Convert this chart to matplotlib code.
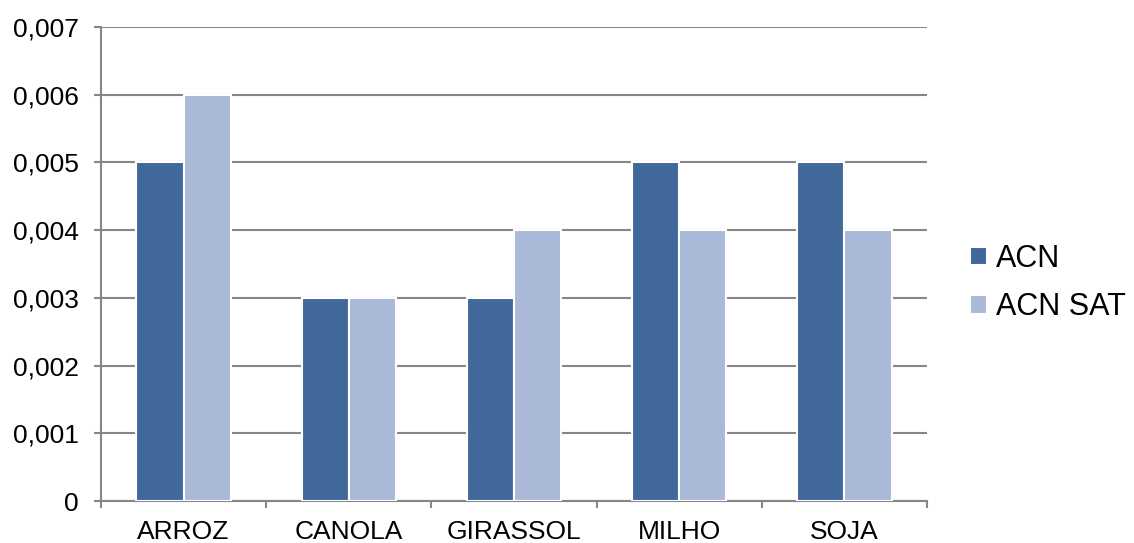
import matplotlib.pyplot as plt
import numpy as np

plt.rcParams['font.family'] = ['Liberation Sans', 'DejaVu Sans']

categories = ['ARROZ', 'CANOLA', 'GIRASSOL', 'MILHO', 'SOJA']
acn = [0.005, 0.003, 0.003, 0.005, 0.005]
acn_sat = [0.006, 0.003, 0.004, 0.004, 0.004]
y_ticks = [0, 0.001, 0.002, 0.003, 0.004, 0.005, 0.006, 0.007]
y_labels = ['0', '0,001', '0,002', '0,003', '0,004', '0,005', '0,006', '0,007']

dark = '#41689B'
light = '#AAB9D7'
grid = '#868686'

fig = plt.figure(figsize=(11.34, 5.43), dpi=100)
ax = fig.add_axes([0.089, 0.0773, 0.7285, 0.873])

x = np.arange(len(categories))
w = 0.285
ax.bar(x - w / 2, acn, w, color=dark, edgecolor='white', linewidth=1.5, label='ACN', zorder=3)
ax.bar(x + w / 2, acn_sat, w, color=light, edgecolor='white', linewidth=1.5, label='ACN SAT', zorder=3)

ax.set_xlim(-0.5, len(categories) - 0.5)
ax.set_ylim(0, 0.007)
ax.set_yticks(y_ticks)
ax.set_yticklabels(y_labels)
ax.set_xticks(x)
ax.set_xticklabels(categories)
ax.set_xticks(np.arange(len(categories) + 1) - 0.5, minor=True)

ax.yaxis.grid(True, color=grid, linewidth=1.5, zorder=0)
ax.set_axisbelow(True)
for side in ['top', 'right']:
    ax.spines[side].set_visible(False)
for side in ['left', 'bottom']:
    ax.spines[side].set_color(grid)
    ax.spines[side].set_linewidth(1.5)

ax.tick_params(axis='y', direction='out', length=5, width=1.5, color=grid, pad=11, labelsize=19)
ax.tick_params(axis='x', which='major', length=0, pad=14, labelsize=19)
ax.tick_params(axis='x', which='minor', direction='out', length=5, width=1.5, color=grid)

ax.legend(loc='center left', bbox_to_anchor=(1.052, 0.46), frameon=False, fontsize=22,
          handlelength=0.55, handleheight=0.55, handletextpad=0.3, labelspacing=0.6,
          borderaxespad=0, borderpad=0)

fig.savefig('out.png', dpi=100)
